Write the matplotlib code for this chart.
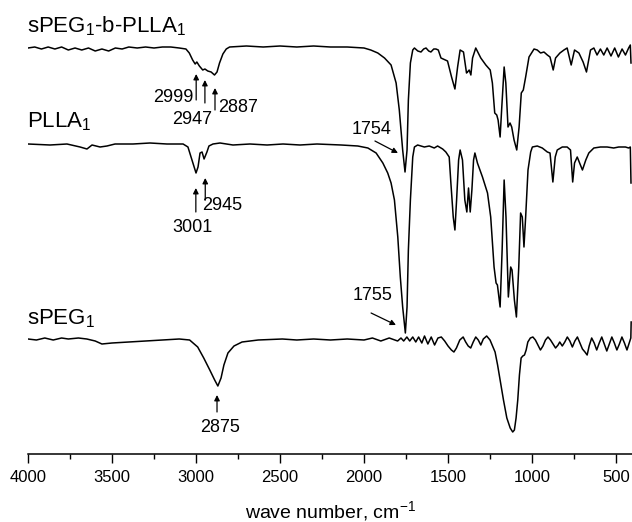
import matplotlib.pyplot as plt
from matplotlib.ticker import MultipleLocator

plt.rcParams['font.family'] = ['Liberation Sans', 'DejaVu Sans']
plt.rcParams['mathtext.fontset'] = 'custom'
plt.rcParams['mathtext.rm'] = 'Liberation Sans'
plt.rcParams['mathtext.it'] = 'Liberation Sans:italic'


# FTIR spectra: (wave number cm-1, transmittance a.u. relative to baseline)
copolymer = [
    (4000, 0), (3960, 1), (3920, -1), (3880, 1), (3840, -1), (3800, 1), (3760, -2), (3720, 0),
    (3680, -2), (3640, 0), (3600, -3), (3560, -1), (3520, -3), (3480, 0), (3440, -1), (3400, 1),
    (3350, 0), (3300, 1), (3250, 0), (3200, 1), (3150, 1), (3100, 0), (3060, -1), (3040, -5),
    (3020, -12), (3005, -16), (2995, -14), (2980, -18), (2960, -22), (2947, -21), (2930, -23),
    (2910, -24), (2890, -27), (2875, -24), (2860, -15), (2840, -6), (2820, -1), (2800, 1),
    (2700, 2), (2600, 1), (2500, 2), (2400, 1), (2300, 2), (2200, 1), (2100, 1), (2000, 0),
    (1960, -2), (1918, -5), (1878, -10), (1839, -17), (1809, -35), (1790, -62), (1770, -102),
    (1756, -124), (1744, -102), (1736, -52), (1724, -15), (1710, -2), (1700, 0), (1680, -3),
    (1661, -4), (1645, -1), (1631, 0), (1615, -3), (1602, -4), (1585, -1), (1572, -1), (1558, -2),
    (1542, -10), (1503, -13), (1479, -29), (1459, -41), (1443, -19), (1428, -2), (1408, -4),
    (1390, -25), (1384, -24), (1374, -22), (1364, -27), (1354, -10), (1335, 0), (1305, -10),
    (1275, -17), (1249, -22), (1236, -35), (1222, -65), (1210, -67), (1202, -72), (1190, -89),
    (1180, -59), (1166, -19), (1156, -35), (1143, -79), (1131, -75), (1121, -79), (1107, -92),
    (1091, -102), (1077, -79), (1064, -45), (1052, -42), (1038, -29), (1018, -9), (988, -1),
    (969, -2), (949, -5), (929, -4), (909, -7), (893, -9), (874, -22), (860, -10), (834, -5),
    (810, -2), (791, 0), (767, -17), (747, -2), (721, -5), (696, -14), (676, -24), (652, -2),
    (632, 0), (613, -7), (593, -1), (573, -7), (553, 0), (530, -8), (508, 0), (486, -9),
    (464, -1), (444, -7), (425, 0), (415, 3), (411, -15),
]

plla = [
    (4000, 1), (3869, 0), (3768, 1), (3690, -2), (3649, -4), (3619, 0), (3571, -2), (3530, -1),
    (3482, 1), (3375, 1), (3274, 2), (3173, 1), (3077, 1), (3048, -2), (3024, -15), (3000, -28),
    (2988, -22), (2976, -8), (2964, -7), (2952, -14), (2935, -7), (2923, -1), (2899, 1),
    (2857, 2), (2780, 0), (2679, 1), (2577, 0), (2482, 1), (2381, 0), (2280, 1), (2136, 0),
    (2037, -1), (1977, -3), (1928, -8), (1888, -18), (1859, -28), (1839, -38), (1819, -55),
    (1799, -92), (1784, -132), (1770, -162), (1754, -188), (1744, -162), (1736, -105),
    (1724, -55), (1710, -12), (1700, -2), (1681, 0), (1641, -2), (1612, -1), (1582, -3),
    (1562, -1), (1532, -4), (1513, -7), (1493, -12), (1483, -38), (1469, -72), (1459, -85),
    (1449, -55), (1437, -15), (1428, -5), (1414, -15), (1400, -55), (1388, -67), (1378, -43),
    (1368, -67), (1358, -45), (1348, -15), (1340, -8), (1325, -18), (1295, -32), (1265, -48),
    (1246, -72), (1226, -122), (1214, -138), (1206, -140), (1190, -162), (1178, -105),
    (1166, -35), (1155, -72), (1141, -152), (1127, -122), (1119, -125), (1105, -155),
    (1093, -172), (1079, -122), (1068, -68), (1058, -72), (1048, -102), (1038, -72), (1024, -25),
    (1008, -7), (998, -2), (969, -1), (939, -3), (909, -7), (893, -8), (876, -37), (862, -12),
    (850, -5), (820, -2), (791, -2), (771, -5), (758, -37), (747, -18), (731, -12), (712, -20),
    (700, -25), (680, -15), (662, -8), (632, -3), (593, -2), (553, -2), (514, -3), (484, -2),
    (444, -2), (425, -3), (415, -2), (411, -38),
]

speg = [
    (4000, 0), (3950, -1), (3900, 1), (3850, -1), (3800, 1), (3760, 0), (3700, 1), (3650, 0),
    (3600, -2), (3560, -5), (3500, -4), (3400, -3), (3300, -2), (3200, -1), (3100, 0),
    (3038, -1), (2990, -8), (2954, -19), (2918, -31), (2889, -41), (2870, -47), (2851, -39),
    (2834, -26), (2810, -14), (2774, -7), (2726, -3), (2630, -1), (2486, 0), (2400, -1),
    (2300, 0), (2200, -1), (2100, 0), (2000, -1), (1950, 1), (1900, -2), (1850, 1), (1800, -2),
    (1780, 1), (1764, -2), (1745, 2), (1728, -2), (1710, 2), (1692, -3), (1675, 2), (1656, -4),
    (1640, 3), (1620, -5), (1600, 2), (1580, -6), (1560, 1), (1540, 2), (1520, -2), (1500, -7),
    (1480, -11), (1465, -13), (1450, -9), (1430, -1), (1410, 2), (1395, -3), (1380, -7),
    (1365, -9), (1350, -3), (1335, 2), (1320, -1), (1305, -6), (1290, 0), (1270, 3), (1250, -1),
    (1235, -7), (1220, -13), (1205, -26), (1190, -41), (1170, -61), (1150, -79), (1130, -89),
    (1115, -93), (1105, -91), (1095, -79), (1085, -61), (1075, -36), (1065, -19), (1055, -17),
    (1045, -16), (1035, -11), (1025, -3), (1010, 1), (995, 2), (980, -1), (965, -6), (950, -11),
    (935, -7), (920, -1), (905, 2), (890, -1), (875, -5), (860, -9), (845, -6), (835, -3),
    (820, -7), (805, -3), (790, 2), (775, -2), (760, -8), (745, -2), (730, 2), (715, -4),
    (700, -10), (685, -13), (672, -16), (660, -7), (645, 1), (630, -4), (615, -11), (600, -4),
    (585, 2), (570, -5), (555, -12), (540, -5), (525, 2), (510, -4), (495, -11), (480, -5),
    (465, 2), (450, -4), (435, -11), (420, -3), (412, 1), (410, 17),
]

names = ['sPEG$_1$-b-PLLA$_1$', 'PLLA$_1$', 'sPEG$_1$']
spectra = [copolymer, plla, speg]
offsets = [406, 309, 115]   # vertical stacking of the traces
name_y = [428, 332, 135]

# peak labels: (text, peak wave number, arrow tip y, arrow tail y, text x, text y, ha)
peaks = [
    ('2999', 2999, 380, 354, 3012, 356, 'right'),
    ('2947', 2947, 374, 351, 3024, 334, 'center'),
    ('2887', 2887, 366, 344, 2869, 346, 'left'),
    ('3001', 3001, 266, 242, 3024, 227, 'center'),
    ('2945', 2945, 276, 254, 2964, 249, 'left'),
    ('2875', 2875, 59, 42, 2857, 26, 'center'),
]
# slanted arrows for the carbonyl bands: (text, tip x, tip y, tail x, tail y, text x, text y)
carbonyl = [
    ('1754', 1798, 301, 1935, 313, 1958, 325),
    ('1755', 1810, 129, 1958, 141, 1952, 158),
]

fig = plt.figure(figsize=(6.32, 5.22), dpi=100)
ax = fig.add_axes([28 / 632, 68 / 522, 604 / 632, 454 / 522])

for spec, off, name, ny in zip(spectra, offsets, names, name_y):
    wn = [p[0] for p in spec]
    t = [p[1] + off for p in spec]
    ax.plot(wn, t, color='black', lw=1.1)
    ax.text(4006, ny, name, fontsize=16, ha='left', va='center', clip_on=False)

arrow = dict(arrowstyle='-|>', color='black', lw=0.9, mutation_scale=8, shrinkA=0, shrinkB=0)
for label, wn, tip, tail, tx, ty, ha in peaks:
    ax.annotate('', xy=(wn, tip), xytext=(wn, tail), arrowprops=arrow)
    ax.text(tx, ty, label, fontsize=13, ha=ha, va='center')

for label, x1, y1, x0, y0, tx, ty in carbonyl:
    ax.annotate('', xy=(x1, y1), xytext=(x0, y0), arrowprops=arrow)
    ax.text(tx, ty, label, fontsize=13, ha='center', va='center')

ax.set_xlim(4000, 405)
ax.set_ylim(0, 454)
ax.xaxis.set_major_locator(MultipleLocator(500))
ax.xaxis.set_minor_locator(MultipleLocator(250))
ax.tick_params(axis='x', which='major', direction='out', length=6.5, width=1.0, labelsize=12, pad=5)
ax.tick_params(axis='x', which='minor', direction='out', length=3.5, width=1.0)
ax.set_yticks([])
for side in ['top', 'left', 'right']:
    ax.spines[side].set_visible(False)
ax.spines['bottom'].set_linewidth(1.1)
ax.set_xlabel('wave number, cm$^{-1}$', fontsize=14, labelpad=10)
ax.patch.set_alpha(0)

fig.savefig('out.png', dpi=100)
